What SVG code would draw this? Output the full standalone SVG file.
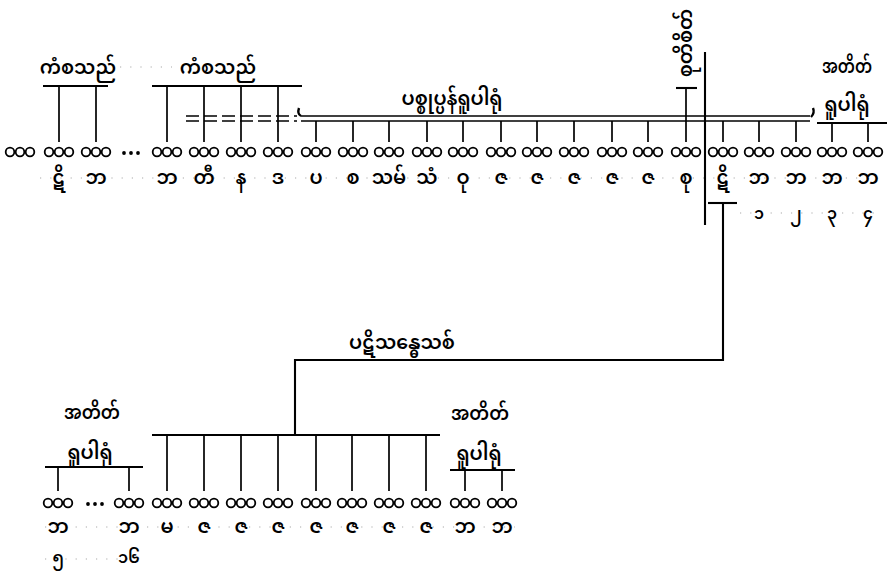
<svg xmlns="http://www.w3.org/2000/svg" xmlns:xlink="http://www.w3.org/1999/xlink" width="890" height="578" viewBox="0 0 890 578">
<style>
.ln{stroke:#000;stroke-width:1.7;fill:none}
.bar{stroke:#000;stroke-width:2.1;fill:none}
.dash{stroke:#000;stroke-width:1.7;fill:none;stroke-dasharray:13 5}
.c{fill:none;stroke:#000;stroke-width:1.8}
.dot{stroke:#aaa;stroke-width:1.2;fill:none;stroke-dasharray:1.2 9}
.t{font-family:"Noto Sans Myanmar","Padauk","Myanmar Text","Myanmar3","Noto Sans",sans-serif;font-size:19px;font-weight:600;text-anchor:middle;fill:#000}
.n{font-family:"Noto Sans Myanmar","Padauk","Myanmar Text","Myanmar3","Noto Sans",sans-serif;font-size:16px;font-weight:600;text-anchor:middle;fill:#000}
.h{font-family:"Noto Sans Myanmar","Padauk","Myanmar Text","Myanmar3","Noto Sans",sans-serif;font-size:19px;font-weight:600;text-anchor:middle;fill:#000}
</style>
<defs>
<g id="ooo"><circle class="c" cx="-10" cy="0" r="4.3"/><circle class="c" cx="0" cy="0" r="4.3"/><circle class="c" cx="10" cy="0" r="4.3"/></g>
<g id="ell"><circle cx="-7" cy="0" r="1.9"/><circle cx="0" cy="0" r="1.9"/><circle cx="7" cy="0" r="1.9"/></g>
</defs>
<rect width="890" height="578" fill="#fff"/>

<g id="guides">
<line class="dot" x1="120" y1="67" x2="172" y2="67"/>
<line class="dot" x1="40" y1="178" x2="880" y2="178"/>
<line class="dot" x1="740" y1="213" x2="880" y2="213"/>
<line class="dot" x1="45" y1="527" x2="515" y2="527"/>
<line class="dot" x1="45" y1="559" x2="140" y2="559"/>
</g>

<g id="connectors">
<line class="bar" x1="43" y1="86" x2="108" y2="86"/>
<line class="ln" x1="59" y1="86" x2="59" y2="142"/>
<line class="ln" x1="96" y1="86" x2="96" y2="142"/>
<line class="bar" x1="152" y1="86" x2="302" y2="86"/>
<line class="ln" x1="167" y1="86" x2="167" y2="142"/>
<line class="ln" x1="204" y1="86" x2="204" y2="142"/>
<line class="ln" x1="241" y1="86" x2="241" y2="142"/>
<line class="ln" x1="278" y1="86" x2="278" y2="142"/>
<line class="dash" x1="186" y1="116" x2="297" y2="116"/>
<line class="dash" x1="186" y1="121" x2="297" y2="121"/>
<line class="ln" x1="301" y1="116" x2="810" y2="116"/>
<line class="ln" x1="301" y1="121" x2="810" y2="121"/>
<path d="M301,116 Q297,114 299,108" stroke="#000" stroke-width="2.4" fill="none"/>
<path d="M813,108 Q815,113 811,117" stroke="#000" stroke-width="2.4" fill="none"/>
<line class="ln" x1="316" y1="121" x2="316" y2="142"/>
<line class="ln" x1="353" y1="121" x2="353" y2="142"/>
<line class="ln" x1="389" y1="121" x2="389" y2="142"/>
<line class="ln" x1="427" y1="121" x2="427" y2="142"/>
<line class="ln" x1="463" y1="121" x2="463" y2="142"/>
<line class="ln" x1="501" y1="121" x2="501" y2="142"/>
<line class="ln" x1="537" y1="121" x2="537" y2="142"/>
<line class="ln" x1="574" y1="121" x2="574" y2="142"/>
<line class="ln" x1="612" y1="121" x2="612" y2="142"/>
<line class="ln" x1="648" y1="121" x2="648" y2="142"/>
<line class="ln" x1="723" y1="121" x2="723" y2="142"/>
<line class="ln" x1="759" y1="121" x2="759" y2="142"/>
<line class="ln" x1="796" y1="121" x2="796" y2="142"/>
<line class="bar" x1="676" y1="88" x2="697" y2="88"/>
<line class="ln" x1="686" y1="88" x2="686" y2="142"/>
<line class="bar" x1="705" y1="52" x2="705" y2="225"/>
<line class="bar" x1="817" y1="123" x2="887" y2="123"/>
<line class="ln" x1="832" y1="123" x2="832" y2="142"/>
<line class="ln" x1="868" y1="123" x2="868" y2="142"/>
<line class="bar" x1="708" y1="203" x2="737" y2="203"/>
<polyline class="bar" points="723,203 723,360 295,360 295,435"/>
<line class="bar" x1="152" y1="435" x2="440" y2="435"/>
<line class="ln" x1="167" y1="435" x2="167" y2="491"/>
<line class="ln" x1="204" y1="435" x2="204" y2="491"/>
<line class="ln" x1="241" y1="435" x2="241" y2="491"/>
<line class="ln" x1="278" y1="435" x2="278" y2="491"/>
<line class="ln" x1="316" y1="435" x2="316" y2="491"/>
<line class="ln" x1="352" y1="435" x2="352" y2="491"/>
<line class="ln" x1="389" y1="435" x2="389" y2="491"/>
<line class="ln" x1="426" y1="435" x2="426" y2="491"/>
<line class="bar" x1="45" y1="467" x2="143" y2="467"/>
<line class="ln" x1="58" y1="467" x2="58" y2="491"/>
<line class="ln" x1="129" y1="467" x2="129" y2="491"/>
<line class="bar" x1="450" y1="470" x2="515" y2="470"/>
<line class="ln" x1="465" y1="470" x2="465" y2="491"/>
<line class="ln" x1="502" y1="470" x2="502" y2="491"/>
</g>

<g id="labels">
<text class="h" x="78" y="74">ကံစသည်</text>
<text class="h" x="218" y="74">ကံစသည်</text>
<text class="h" x="452" y="105">ပစ္စုပ္ပန်ရူပါရုံ</text>
<text class="h" x="847" y="73" textLength="50" lengthAdjust="spacingAndGlyphs">အတိတ်</text>
<text class="h" x="847" y="111">ရူပါရုံ</text>
<text class="h" transform="translate(692,43) rotate(-90)">စုတိစိတ်</text>
<text class="h" x="402" y="349">ပဋိသန္ဓေသစ်</text>
<text class="h" x="92" y="419" textLength="56" lengthAdjust="spacingAndGlyphs">အတိတ်</text>
<text class="h" x="90" y="459">ရူပါရုံ</text>
<text class="h" x="480" y="420" textLength="58" lengthAdjust="spacingAndGlyphs">အတိတ်</text>
<text class="h" x="479" y="460">ရူပါရုံ</text>
</g>

<g id="top-row">
<g id="t0"><use href="#ooo" x="20" y="152"/></g>
<g id="t1"><use href="#ooo" x="59" y="152"/><text class="t" x="59" y="184">ဋိ</text></g>
<g id="t2"><use href="#ooo" x="96" y="152"/><text class="t" x="96" y="184">ဘ</text></g>
<g id="t-ell"><use href="#ell" x="131" y="153"/></g>
<g id="t3"><use href="#ooo" x="167" y="152"/><text class="t" x="167" y="184">ဘ</text></g>
<g id="t4"><use href="#ooo" x="204" y="152"/><text class="t" x="204" y="184">တီ</text></g>
<g id="t5"><use href="#ooo" x="241" y="152"/><text class="t" x="241" y="184">န</text></g>
<g id="t6"><use href="#ooo" x="278" y="152"/><text class="t" x="278" y="184">ဒ</text></g>
<g id="t7"><use href="#ooo" x="316" y="152"/><text class="t" x="316" y="184">ပ</text></g>
<g id="t8"><use href="#ooo" x="353" y="152"/><text class="t" x="353" y="184">စ</text></g>
<g id="t9"><use href="#ooo" x="389" y="152"/><text class="t" x="389" y="184">သမ်</text></g>
<g id="t10"><use href="#ooo" x="427" y="152"/><text class="t" x="427" y="184">သံ</text></g>
<g id="t11"><use href="#ooo" x="463" y="152"/><text class="t" x="463" y="184">ဝု</text></g>
<g id="t12"><use href="#ooo" x="501" y="152"/><text class="t" x="501" y="184">ဇ</text></g>
<g id="t13"><use href="#ooo" x="537" y="152"/><text class="t" x="537" y="184">ဇ</text></g>
<g id="t14"><use href="#ooo" x="574" y="152"/><text class="t" x="574" y="184">ဇ</text></g>
<g id="t15"><use href="#ooo" x="612" y="152"/><text class="t" x="612" y="184">ဇ</text></g>
<g id="t16"><use href="#ooo" x="648" y="152"/><text class="t" x="648" y="184">ဇ</text></g>
<g id="t17"><use href="#ooo" x="686" y="152"/><text class="t" x="686" y="184">စု</text></g>
<g id="t18"><use href="#ooo" x="723" y="152"/><text class="t" x="723" y="184">ဋိ</text></g>
<g id="t19"><use href="#ooo" x="759" y="152"/><text class="t" x="759" y="184">ဘ</text><text class="n" x="759" y="219">၁</text></g>
<g id="t20"><use href="#ooo" x="796" y="152"/><text class="t" x="796" y="184">ဘ</text><text class="n" x="796" y="219">၂</text></g>
<g id="t21"><use href="#ooo" x="832" y="152"/><text class="t" x="832" y="184">ဘ</text><text class="n" x="832" y="219">၃</text></g>
<g id="t22"><use href="#ooo" x="868" y="152"/><text class="t" x="868" y="184">ဘ</text><text class="n" x="868" y="219">၄</text></g>
</g>

<g id="bottom-row">
<g id="b0"><use href="#ooo" x="58" y="503"/><text class="t" x="58" y="533">ဘ</text><text class="n" x="58" y="563">၅</text></g>
<g id="b-ell"><use href="#ell" x="95" y="504"/></g>
<g id="b1"><use href="#ooo" x="129" y="503"/><text class="t" x="129" y="533">ဘ</text><text class="n" x="129" y="563">၁၆</text></g>
<g id="b2"><use href="#ooo" x="167" y="503"/><text class="t" x="167" y="533">မ</text></g>
<g id="b3"><use href="#ooo" x="204" y="503"/><text class="t" x="204" y="533">ဇ</text></g>
<g id="b4"><use href="#ooo" x="241" y="503"/><text class="t" x="241" y="533">ဇ</text></g>
<g id="b5"><use href="#ooo" x="278" y="503"/><text class="t" x="278" y="533">ဇ</text></g>
<g id="b6"><use href="#ooo" x="316" y="503"/><text class="t" x="316" y="533">ဇ</text></g>
<g id="b7"><use href="#ooo" x="352" y="503"/><text class="t" x="352" y="533">ဇ</text></g>
<g id="b8"><use href="#ooo" x="389" y="503"/><text class="t" x="389" y="533">ဇ</text></g>
<g id="b9"><use href="#ooo" x="426" y="503"/><text class="t" x="426" y="533">ဇ</text></g>
<g id="b10"><use href="#ooo" x="465" y="503"/><text class="t" x="465" y="533">ဘ</text></g>
<g id="b11"><use href="#ooo" x="502" y="503"/><text class="t" x="502" y="533">ဘ</text></g>
</g>
</svg>
